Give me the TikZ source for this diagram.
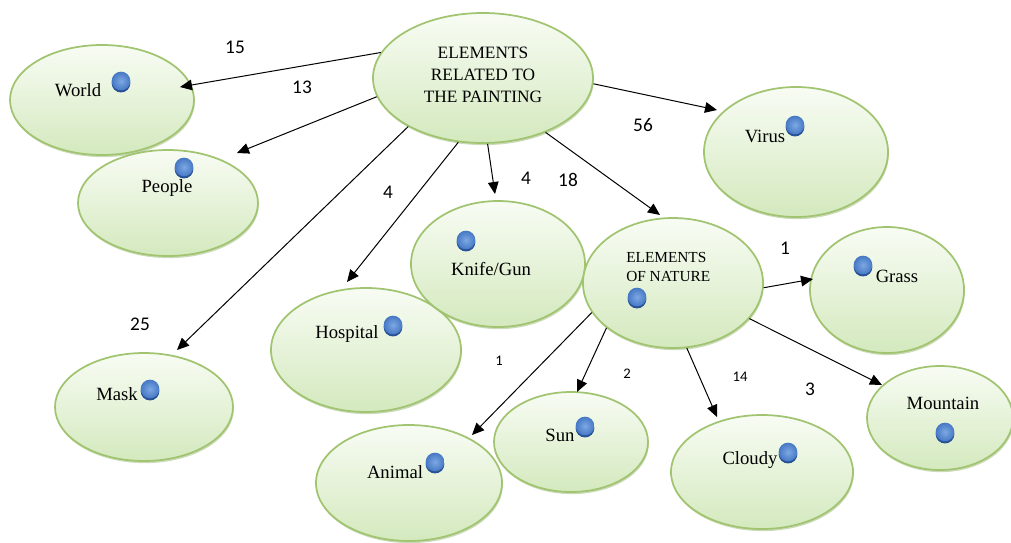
\documentclass[tikz,border=0pt]{standalone}
\usepackage{fontspec}
\setmainfont{Liberation Serif}
\newfontfamily\numfont{Carlito}
\usetikzlibrary{arrows.meta,shapes.geometric,shadows}
\definecolor{elborder}{RGB}{160,196,112}
\definecolor{eltop}{RGB}{248,252,244}
\definecolor{elbot}{RGB}{212,233,190}
\definecolor{elshadow}{RGB}{140,175,100}
\definecolor{dotlight}{RGB}{125,168,228}
\definecolor{dotblue}{RGB}{70,120,196}
\definecolor{dotdark}{RGB}{40,82,150}
\begin{document}
\begin{tikzpicture}[x=0.75pt,y=-0.75pt,
  el/.style 2 args={ellipse, draw=elborder, line width=1.3pt, top color=eltop, bottom color=elbot,
    minimum width=#1*1.5pt, minimum height=#2*1.5pt, inner sep=0pt,
    drop shadow={shadow xshift=0.6pt, shadow yshift=-1.6pt, opacity=0.45, fill=elshadow}},
  lbl/.style={font=\fontsize{14}{16}\selectfont, inner sep=0pt},
  num/.style={font=\numfont\fontsize{14.5}{16}\selectfont, inner sep=0pt},
  snum/.style={font=\numfont\fontsize{11}{13}\selectfont, inner sep=0pt},
  bluedot/.style={circle, minimum size=14pt, inner sep=0pt, inner color=dotlight, outer color=dotblue,
    drop shadow={shadow xshift=0pt, shadow yshift=-1.6pt, opacity=1, fill=dotdark}},
  arr/.style={line width=0.75pt, -{Triangle[length=9pt,width=8pt]}}]
\fill[white] (0,0) rectangle (1011,543);
\useasboundingbox (0,0) rectangle (1011,543);
% ellipses
\node[el={92}{55}] (world) at (102,100) {};
\node[el={90}{53}] (people) at (168,203) {};
\node[el={110}{65}] (central) at (483,78) {};
\node[el={92}{65}] (virus) at (796,152) {};
\node[el={95}{62}] (hospital) at (366,350) {};
\node[el={87}{63}] (knife) at (498,264) {};
\node[el={90}{65}] (nature) at (673,283) {};
\node[el={77}{63}] (grass) at (887,290) {};
\node[el={89}{54}] (mask) at (144,407) {};
\node[el={93}{58}] (animal) at (409,483) {};
\node[el={77}{50}] (sun) at (571,442) {};
\node[el={91}{57}] (cloudy) at (762,472) {};
\node[el={73}{52}] (mountain) at (940,418) {};
% arrow ends
\coordinate (e-world) at (180,87);
\coordinate (e-people) at (237,153);
\coordinate (e-mask) at (177,350);
\coordinate (e-hospital) at (347,282);
\coordinate (e-knife) at (495,194);
\coordinate (e-nature) at (660,215);
\coordinate (e-virus) at (717,110);
\coordinate (e-grass) at (813,279);
\coordinate (e-mountain) at (882,385);
\coordinate (e-cloudy) at (717,417);
\coordinate (e-sun) at (577,392);
\coordinate (e-animal) at (472,435);
% arrows
\draw[arr] (central.166) -- (e-world);
\draw[arr] (central.190) -- (e-people);
\draw[arr] (central.213) -- (e-mask);
\draw[arr] (central.249) -- (e-hospital);
\draw[arr] (central.274) -- (e-knife);
\draw[arr] (central.319) -- (e-nature);
\draw[arr] (central.357) -- (e-virus);
\draw[arr] (nature.357) -- (e-grass);
\draw[arr] (nature.335) -- (e-mountain);
\draw[arr] (nature.282) -- (e-cloudy);
\draw[arr] (nature.214) -- (e-sun);
\draw[arr] (nature.200) -- (e-animal);
% texts
\node[font=\fontsize{13}{16.5}\selectfont, align=center, inner sep=0pt] (t-central) at (483,75) {ELEMENTS\\RELATED TO\\THE PAINTING};
\node[font=\fontsize{11.5}{14.25}\selectfont, align=left, anchor=west, inner sep=0pt] (t-nature) at (626,267) {ELEMENTS\\OF NATURE};
\node[lbl] (t-world) at (78,90) {World};
\node[lbl] (t-people) at (167,188) {People};
\node[lbl] (t-virus) at (765,136) {Virus};
\node[lbl] (t-knife) at (491,269) {Knife/Gun};
\node[lbl] (t-grass) at (897,276) {Grass};
\node[lbl] (t-hospital) at (347,334) {Hospital};
\node[lbl] (t-mask) at (117,394) {Mask};
\node[lbl] (t-animal) at (395,472) {Animal};
\node[lbl] (t-sun) at (560,435) {Sun};
\node[lbl] (t-cloudy) at (750,460) {Cloudy};
\node[lbl] (t-mountain) at (943,403) {Mountain};
% dots
\node[bluedot] (d-world) at (121,81) {};
\node[bluedot] (d-people) at (184,167) {};
\node[bluedot] (d-virus) at (795,125) {};
\node[bluedot] (d-knife) at (466,240) {};
\node[bluedot] (d-nature) at (637,297) {};
\node[bluedot] (d-grass) at (863,265) {};
\node[bluedot] (d-hospital) at (393,325) {};
\node[bluedot] (d-mask) at (150,389) {};
\node[bluedot] (d-animal) at (435,462) {};
\node[bluedot] (d-sun) at (585,426) {};
\node[bluedot] (d-cloudy) at (788,452) {};
\node[bluedot] (d-mountain) at (945,432) {};
% numbers
\node[num] (n15) at (235,47) {15};
\node[num] (n13) at (302,87) {13};
\node[num] (n4a) at (388,192) {4};
\node[num] (n4b) at (526,178) {4};
\node[num] (n18) at (568,180) {18};
\node[num] (n56) at (643,125) {56};
\node[num] (n25) at (140,324) {25};
\node[num] (n1g) at (785,248) {1};
\node[num] (n3) at (810,389) {3};
\node[snum] (n1a) at (499,361) {1};
\node[snum] (n2) at (627,374) {2};
\node[snum] (n14) at (740,377) {14};
\end{tikzpicture}
\end{document}
